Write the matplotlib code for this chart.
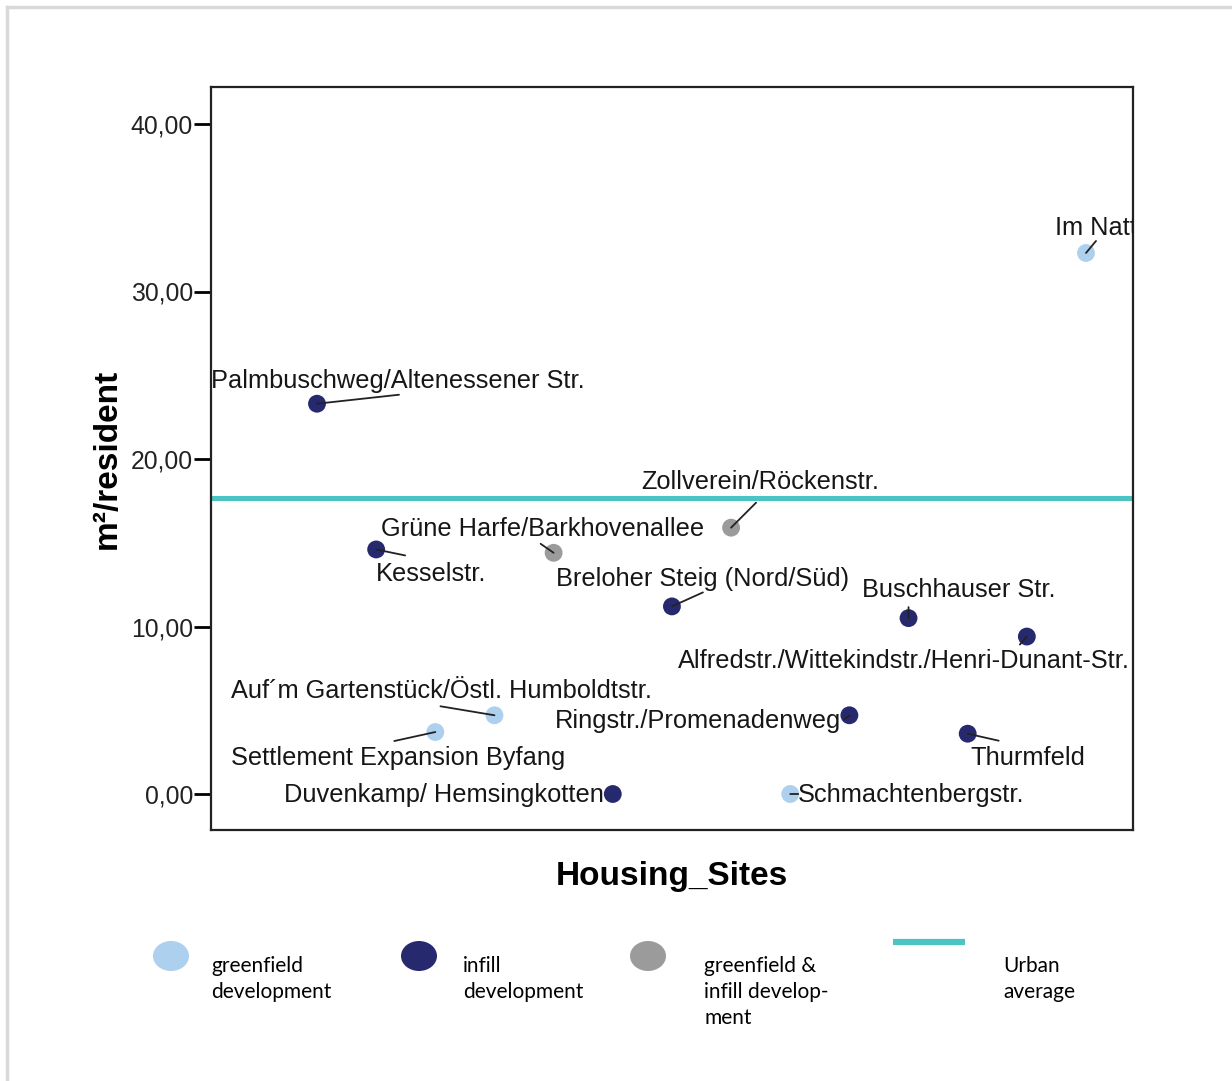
import matplotlib.pyplot as plt
import matplotlib.patches as mpatches
import numpy as np

# data
sites = ["Palmbuschweg/Altenessener Str.", "Kesselstr.", "Settlement Expansion Byfang",
         "Auf´m Gartenstück/Östl. Humboldtstr.", "Grüne Harfe/Barkhovenallee",
         "Duvenkamp/ Hemsingkotten", "Breloher Steig (Nord/Süd)", "Zollverein/Röckenstr.",
         "Schmachtenbergstr.", "Ringstr./Promenadenweg", "Buschhauser Str.", "Thurmfeld",
         "Alfredstr./Wittekindstr./Henri-Dunant-Str.", "Im Natt"]
m2_per_resident = [23.3, 14.6, 3.7, 4.7, 14.4, 0.0, 11.2, 15.9, 0.0, 4.7, 10.5, 3.6, 9.4, 32.3]
site_type = ["infill", "infill", "greenfield", "greenfield", "mixed", "infill", "infill",
             "mixed", "greenfield", "infill", "infill", "infill", "infill", "greenfield"]
urban_average = 17.7
yticks = [0, 10, 20, 30, 40]

colors = {"greenfield": "#acd0ee", "infill": "#27296f", "mixed": "#9b9b9b"}
line_color = "#4cc4c4"

# label placement (pixel offsets from dot: text x, text y, ha, leader end x, leader end y)
label_pos = [(-106, 23, "left", 82, 9), (0, -25, "left", 29, -6), (-204, -26, "left", -41, -9),
             (-263, 24, "left", -54, 9), (-173, 24, "left", -13, 9), (-9, -1, "right", 0, 0),
             (-116, 27, "left", 31, 14), (-90, 46, "left", 25, 25), (8, -1, "left", 8, 0),
             (-8, -6, "right", -5, -4), (-47, 28, "left", 0, 11), (3, -24, "left", 31, -7),
             (103, -24, "right", -7, -8), (-31, 25, "left", 10, 12)]

fig = plt.figure(figsize=(12.32, 10.81), dpi=100)
ax = fig.add_axes([211/1232, 1-830/1081, 922/1232, 743/1081])

x = np.arange(1, len(sites) + 1)
ax.axhline(urban_average, color=line_color, lw=3.6, zorder=1)
ax.scatter(x, m2_per_resident, s=165, c=[colors[t] for t in site_type], zorder=3, linewidths=0)

for xi, yi, name, (tx, ty, ha, lx, ly) in zip(x, m2_per_resident, sites, label_pos):
    if lx or ly:
        ax.annotate("", xy=(xi, yi), xytext=(lx, ly), textcoords="offset pixels",
                    arrowprops=dict(arrowstyle="-", color="#222222", lw=1.3,
                                    shrinkA=0, shrinkB=0), zorder=4)
    ax.annotate(name, xy=(xi, yi), xytext=(tx, ty), textcoords="offset pixels",
                ha=ha, va="center", fontsize=18.3, family="Liberation Sans",
                color="#161616", clip_on=True, zorder=5)

ax.set_xlim(1 - 106/59.15, 14 + 47/59.15)
ax.set_ylim(-(830-794)/16.75, (794-87)/16.75)
ax.set_yticks(yticks)
ax.set_yticklabels([f"{v:.2f}".replace(".", ",") for v in yticks],
                   fontsize=17.8, family="Liberation Sans", color="#222222")
ax.set_xticks([])
ax.tick_params(axis="y", length=12, width=2, pad=1)
for sp in ax.spines.values():
    sp.set_linewidth(1.6)
    sp.set_color("#222222")

ax.set_xlabel("Housing_Sites", fontsize=24, fontweight="bold", family="Liberation Sans", labelpad=22)
ax.set_ylabel("m²/resident", fontsize=24, fontweight="bold", family="Liberation Sans", labelpad=6)

# legend and frame drawn in pixel space
lg = fig.add_axes([0, 0, 1, 1], zorder=-1)
lg.set_xlim(0, 1232)
lg.set_ylim(1081, 0)
lg.axis("off")
lg.plot([7, 7], [1081, 7], color="#d9d9d9", lw=2.5)
lg.plot([7, 1232], [7, 7], color="#d9d9d9", lw=2.5)

leg_items = [(171, colors["greenfield"], ["greenfield", "development"], 211),
             (419, colors["infill"], ["infill", "development"], 463),
             (648, colors["mixed"], ["greenfield &", "infill develop-", "ment"], 704)]
for cx, col, lines, tx in leg_items:
    lg.add_patch(mpatches.Ellipse((cx, 956), 36, 30, color=col, lw=0))
    for i, t in enumerate(lines):
        lg.text(tx, 966 + 26*i, t, fontsize=15, family="Lato", va="center", ha="left")
lg.plot([893, 965], [942, 942], color=line_color, lw=4.5, solid_capstyle="butt")
lg.text(1003, 966, "Urban", fontsize=15, family="Lato", va="center", ha="left")
lg.text(1003, 992, "average", fontsize=15, family="Lato", va="center", ha="left")

fig.savefig("out.png", dpi=100)
